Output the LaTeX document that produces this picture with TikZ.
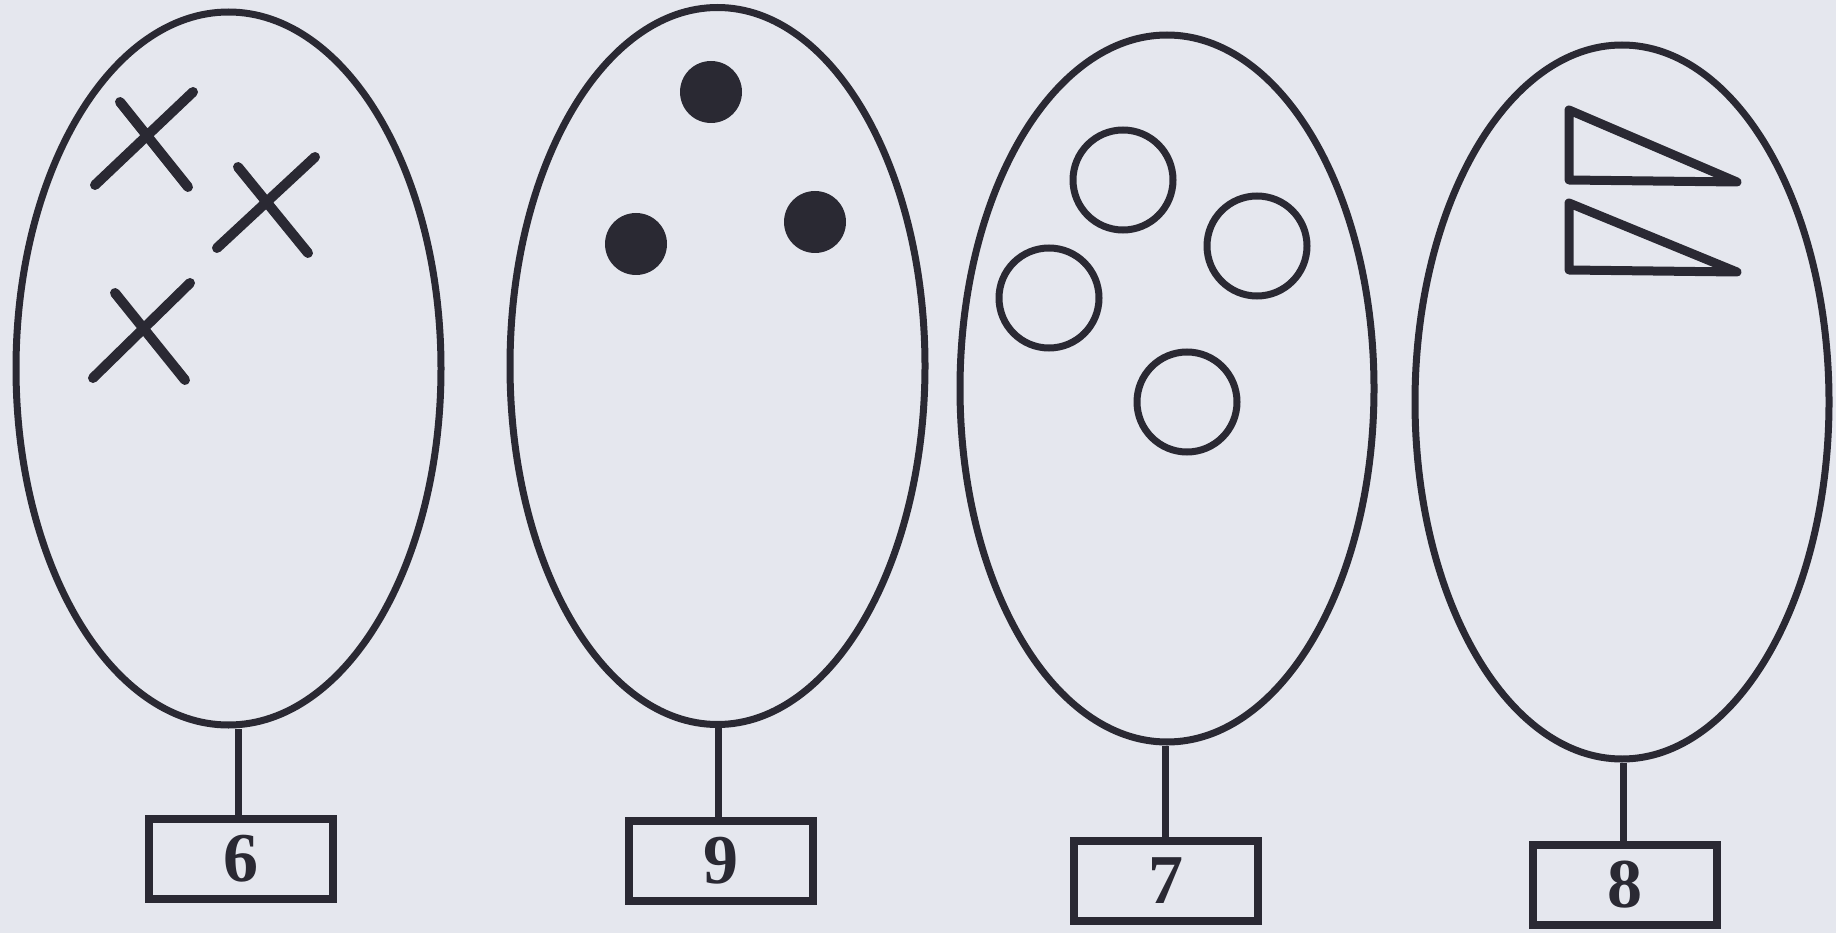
\documentclass[tikz,border=0pt]{standalone}
\usepackage{fontspec}
\setmainfont{Liberation Serif}
\usetikzlibrary{shapes.geometric}
\definecolor{paper}{HTML}{E5E7EE}
\definecolor{ink}{HTML}{2A2933}
\tikzset{
  oval/.style={ellipse, draw=ink, line width=7pt, inner sep=0pt},
  numbox/.style={rectangle, draw=ink, line width=8pt, minimum width=184pt, minimum height=80pt, inner sep=0pt, font=\fontsize{70}{70}\selectfont\bfseries, text=ink},
  stem/.style={draw=ink, line width=7pt},
  cross/.style={draw=ink, line width=10pt, line cap=round},
  ring/.style={circle, draw=ink, line width=7pt, inner sep=0pt, minimum size=100pt},
  blob/.style={circle, fill=ink, inner sep=0pt, minimum size=62pt},
  wedge/.style={draw=ink, line width=9pt, line join=round}
}
\begin{document}
\begin{tikzpicture}[x=1pt,y=-1pt]
\fill[paper] (0,0) rectangle (1836,933);
\useasboundingbox (0,0) rectangle (1836,933);
% ovals
\node[oval, minimum width=425pt, minimum height=713pt] (e1) at (228.5,368.5) {};
\node[oval, minimum width=415pt, minimum height=717pt] (e2) at (717.5,366) {};
\node[oval, minimum width=414pt, minimum height=707pt] (e3) at (1167,388.5) {};
\node[oval, minimum width=414pt, minimum height=714pt] (e4) at (1622,402) {};
% number boxes
\node[numbox] (b1) at (241,858.5) {6};
\node[numbox] (b2) at (721,861) {9};
\node[numbox] (b3) at (1166,881) {7};
\node[numbox] (b4) at (1625,885) {8};
% stems
\draw[stem] (b1.north) ++(-3,0) coordinate (s1) -- (s1 |- e1.south);
\draw[stem] (b2.north) ++(-3,0) coordinate (s2) -- (s2 |- e2.south);
\draw[stem] (b3.north) ++(-1,0) coordinate (s3) -- (s3 |- e3.south);
\draw[stem] (b4.north) ++(-2,0) coordinate (s4) -- (s4 |- e4.south);
% crosses
\draw[cross] (95,185) -- (193,92) (120,102) -- (188,187);
\draw[cross] (217,248) -- (315,157) (238,167) -- (308,253);
\draw[cross] (93,378) -- (190,283) (115,293) -- (185,380);
% dots
\node[blob] (d1) at (711,92) {};
\node[blob] (d2) at (636,244) {};
\node[blob] (d3) at (815,222) {};
% rings
\node[ring] (r1) at (1123,180) {};
\node[ring] (r2) at (1257,246) {};
\node[ring] (r3) at (1049,298) {};
\node[ring] (r4) at (1187,402) {};
% triangles
\draw[wedge] (1569,110) -- (1569,180) -- (1737,182) -- cycle;
\draw[wedge] (1569,203) -- (1569,270) -- (1737,272) -- cycle;
\end{tikzpicture}
\end{document}
